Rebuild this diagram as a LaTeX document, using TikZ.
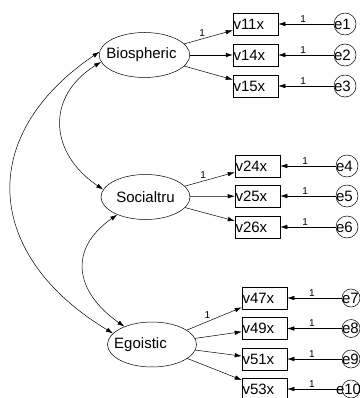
\documentclass[tikz,border=0pt]{standalone}
\usepackage{fontspec}
\setmainfont{Liberation Sans}
\usetikzlibrary{positioning,shapes.geometric,arrows.meta}

\tikzset{
  latent/.style={ellipse,draw,minimum width=89pt,minimum height=45pt,inner sep=0pt,font=\fontsize{15}{18}\selectfont},
  obs/.style={rectangle,draw,minimum height=22pt,text width=44pt,inner xsep=0.5pt,inner ysep=0pt,align=left,font=\fontsize{15}{18}\selectfont},
  err/.style={circle,draw,minimum size=#1,inner sep=0pt},
  errlbl/.style={anchor=west,inner sep=0pt,font=\fontsize{15}{18}\selectfont},
  one/.style={above,inner sep=1.5pt,font=\fontsize{10}{12}\selectfont},
  arr/.style={-{Latex[length=7pt,width=4.5pt]}},
  cov/.style={{Latex[length=7pt,width=4.5pt]}-{Latex[length=7pt,width=4.5pt]}}
}

\begin{document}
\begin{tikzpicture}[x=1pt,y=1pt,line width=0.5pt]
    \useasboundingbox (0,0) rectangle (359,-398);
    \node[latent] (bio) at (144.5,-55) {\hspace*{-6pt}Biospheric};
    \node[latent] (soc) at (145.5,-197) {Socialtru};
    \node[latent] (ego) at (152,-344.5) {\hspace*{-23pt}Egoistic};
    % indicators and their errors
    \foreach \v/\e/\x/\ex/\r/\y/\s in {v11x/e1/255.5/345/22pt/24/0,v14x/e2/255.5/345/22pt/55/0,v15x/e3/255.5/345/22pt/86/0,
        v24x/e4/257.5/347/22pt/166/0,v25x/e5/257.5/347/22pt/196/0,v26x/e6/257.5/347/22pt/227/0,
        v47x/e7/264.5/351/18pt/298/0,v49x/e8/264.5/351/18pt/328.5/0,v51x/e9/264.5/351/18pt/359/0,v53x/e10/264.5/351/18pt/389/-6} {
      \node[obs] (\v) at (\x,-\y) {\v};
      \node[err=\r,label={[errlbl,xshift=\s]west:\e}] (\e) at (\ex,-\y) {};
      \path[arr] (\e) edge node[one,pos=0.55] {1} (\v);
    }
    %\path[arr] (bio) edge node[one] {1} (v14x);
    \path[arr] (bio) edge node[one,above left,pos=0.45,inner sep=1pt] {1} (v11x);
    \path[arr] (bio) edge (v14x);
    \path[arr] (bio) edge (v15x);
    \path[arr] (soc) edge node[one,above left,pos=0.45,inner sep=1pt] {1} (v24x);
    \path[arr] (soc) edge (v25x);
    \path[arr] (soc) edge (v26x);
    \path[arr] (ego) edge node[one,above left,pos=0.45,inner sep=1pt] {1} (v47x);
    \path[arr] (ego) edge (v49x);
    \path[arr] (ego) edge (v51x);
    \path[arr] (ego) edge (v53x);
    % covariances
    \draw[cov] (bio.176) to[out=214,in=149,looseness=1.36] (ego.164);
    \draw[cov] (bio.189) to[out=212,in=146,looseness=1.31] (soc.170);
    \draw[cov] (soc.212) to[out=215,in=145,looseness=1.38] (ego.147);
  \end{tikzpicture}
\end{document}
